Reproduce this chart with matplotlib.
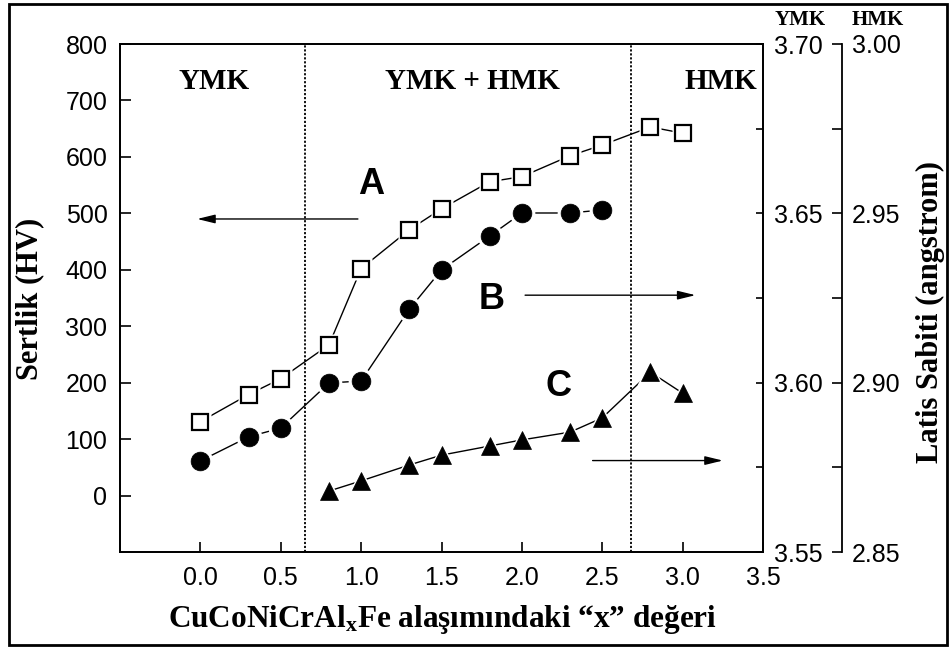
import numpy as np
import matplotlib.pyplot as plt
from matplotlib.patches import Rectangle
from matplotlib.ticker import MultipleLocator

plt.rcParams['font.family'] = ['Liberation Sans', 'DejaVu Sans']
plt.rcParams['mathtext.fontset'] = 'custom'
plt.rcParams['mathtext.rm'] = 'Liberation Serif:bold'
plt.rcParams['mathtext.it'] = 'Liberation Serif:bold'

SERIF = ['Liberation Serif', 'DejaVu Serif']

# A: hardness (left axis)
x_a = [0.0, 0.3, 0.5, 0.8, 1.0, 1.3, 1.5, 1.8, 2.0, 2.3, 2.5, 2.8, 3.0]
hv_a = [131, 179, 207, 267, 402, 471, 508, 556, 565, 602, 621, 653, 642]

# B: lattice constant of YMK phase (right axis 1)
x_b = [0.0, 0.3, 0.5, 0.8, 1.0, 1.3, 1.5, 1.8, 2.0, 2.3, 2.5]
lat_b = [3.5769, 3.5840, 3.5866, 3.5999, 3.6005, 3.6217, 3.6333, 3.6433,
         3.6501, 3.6501, 3.6510]

# C: lattice constant of HMK phase (right axis 2)
x_c = [0.8, 1.0, 1.3, 1.5, 1.8, 2.0, 2.3, 2.5, 2.8, 3.0]
lat_c = [2.8680, 2.8710, 2.8757, 2.8786, 2.8813, 2.8831, 2.8854, 2.8896,
         2.9031, 2.8969]

# phase boundaries
bounds = [0.65, 2.68]

W, H = 953, 650
fig = plt.figure(figsize=(W / 100, H / 100), dpi=100)

ax = fig.add_axes([120 / W, 1 - 552 / H, 643 / W, 508 / H])
ax2 = ax.twinx()
ax3 = ax.twinx()


def halo_line(a, x, y, marker, ms, mfc, mew):
    a.plot(x, y, '-', color='black', lw=1.0, zorder=2)
    a.plot(x, y, linestyle='none', marker=marker, ms=ms + 5, mfc='white',
           mec='none', zorder=3)
    a.plot(x, y, linestyle='none', marker=marker, ms=ms, mfc=mfc,
           mec='black', mew=mew, zorder=4)


halo_line(ax, x_a, hv_a, 's', 11, 'white', 1.6)
halo_line(ax2, x_b, lat_b, 'o', 13.5, 'black', 0.5)
halo_line(ax3, x_c, lat_c, '^', 13.5, 'black', 0.5)

for b in bounds:
    ax.axvline(b, color='black', lw=1.3, linestyle=(0, (1.2, 1.0)), zorder=1)

# main axis
ax.set_xlim(-0.5, 3.5)
ax.set_ylim(-100, 800)
ax.set_xticks(np.arange(0, 3.51, 0.5))
ax.set_xticklabels(['%.1f' % v for v in np.arange(0, 3.51, 0.5)])
ax.set_yticks(range(0, 801, 100))
ax.tick_params(direction='in', labelsize=18, width=1.2, top=False, right=False)
ax.tick_params(axis='y', length=8, pad=9)
ax.tick_params(axis='x', length=7, pad=10)
for s in ax.spines.values():
    s.set_linewidth(1.3)

# YMK axis
ax2.set_ylim(3.55, 3.70)
ax2.set_yticks([3.55, 3.60, 3.65, 3.70])
ax2.set_yticklabels(['3.55', '3.60', '3.65', '3.70'])
ax2.yaxis.set_minor_locator(MultipleLocator(0.025))
ax2.tick_params(which='both', direction='in', labelsize=18, length=5,
                width=1.2, pad=8)
for s in ax2.spines.values():
    s.set_linewidth(1.3)

# HMK axis
ax3.set_ylim(2.85, 3.00)
ax3.spines['right'].set_position(('axes', (842 - 120) / 643))
for k in ['left', 'top', 'bottom']:
    ax3.spines[k].set_visible(False)
ax3.spines['right'].set_linewidth(1.3)
ax3.set_yticks([2.85, 2.90, 2.95, 3.00])
ax3.set_yticklabels(['2.85', '2.90', '2.95', '3.00'])
ax3.yaxis.set_minor_locator(MultipleLocator(0.025))
ax3.tick_params(which='both', direction='in', labelsize=18, length=7,
                width=1.2, pad=7)

# region labels
for xt, txt in [(0.0875, 'YMK'), (1.69, 'YMK + HMK'), (3.24, 'HMK')]:
    ax.text(xt, 720, txt, ha='center', va='baseline', fontsize=21,
            fontweight='bold', family=SERIF, zorder=5)

# series labels and arrows
ax.text(1.06, 534, 'A', ha='center', va='baseline', fontsize=26, fontweight='bold')
ax.text(1.81, 331, 'B', ha='center', va='baseline', fontsize=26, fontweight='bold')
ax.text(2.23, 177, 'C', ha='center', va='baseline', fontsize=26, fontweight='bold')

arrow = dict(arrowstyle='-|>,head_length=0.9,head_width=0.22', color='black',
             lw=1.0, shrinkA=0, shrinkB=0, mutation_scale=12)
ax.annotate('', xy=(-0.02, 490), xytext=(0.98, 490), arrowprops=arrow, zorder=5)
ax.annotate('', xy=(3.08, 355), xytext=(2.02, 355), arrowprops=arrow, zorder=5)
ax.annotate('', xy=(3.25, 62), xytext=(2.44, 62), arrowprops=arrow, zorder=5)

# axis titles
fig.text(30 / W, 1 - 299 / H, 'Sertlik (HV)', rotation=90, ha='center',
         va='center', fontsize=22, fontweight='bold', family=SERIF)
fig.text(930 / W, 1 - 312 / H, 'Latis Sabiti (angstrom)', rotation=90,
         ha='center', va='center', fontsize=22, fontweight='bold', family=SERIF)
fig.text(442 / W, 1 - 627 / H, 'CuCoNiCrAl$_\\mathrm{x}$Fe alaşımındaki \u201cx\u201d değeri',
         ha='center', va='baseline', fontsize=22.5, fontweight='bold', family=SERIF)
fig.text(800 / W, 1 - 25 / H, 'YMK', ha='center', va='baseline', fontsize=15,
         fontweight='bold', family=SERIF)
fig.text(878 / W, 1 - 25 / H, 'HMK', ha='center', va='baseline', fontsize=15,
         fontweight='bold', family=SERIF)

# outer frame
fig.patches.append(Rectangle((9 / W, 5 / H), 938 / W, 641 / H,
                             transform=fig.transFigure, fill=False,
                             edgecolor='black', lw=2.0))

fig.savefig('out.png', dpi=100)
